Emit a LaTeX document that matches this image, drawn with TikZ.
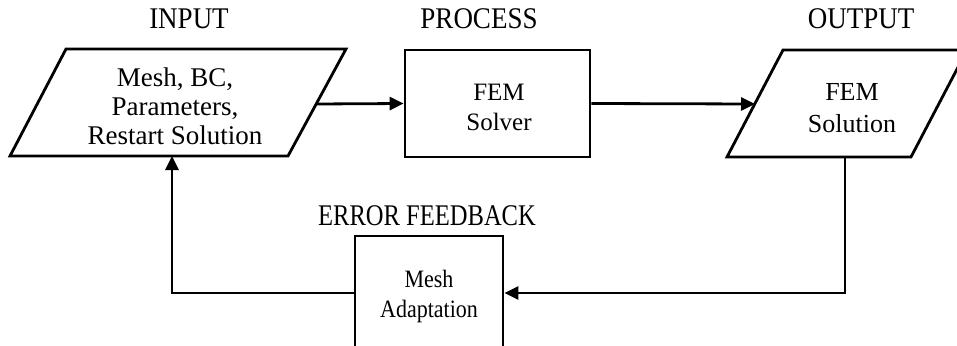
\documentclass[tikz,border=0pt]{standalone}
\usepackage{fontspec}
\setmainfont{Liberation Serif}
\usetikzlibrary{arrows.meta}
\begin{document}
\begin{tikzpicture}[x=1pt,y=-1pt,
  line/.style={line width=2.8pt, line join=miter},
  flow/.style={line width=2.8pt, -{Triangle[length=14pt,width=13pt]}},
  title/.style={font=\fontsize{30}{32}\selectfont, inner sep=0pt, anchor=base, xscale=0.9},
  boxtext/.style={font=\fontsize{24}{30}\selectfont, align=center, inner sep=0pt},
  procbox/.style={draw, line width=2.8pt, inner sep=0pt, boxtext}
]
\useasboundingbox (0,0) rectangle (957,345);
\clip (0,0) rectangle (957,345);

% input data (parallelogram)
\draw[line] (66,49) -- (346,49) -- (288,156) -- (10,156) -- cycle;
\node[boxtext, font=\fontsize{27}{29}\selectfont] (inputtext) at (175,106) {Mesh, BC,\\Parameters,\\Restart Solution};
\coordinate (inR) at (316,104);
\coordinate (inB) at (172,156);

% solver
\node[procbox, minimum width=185pt, minimum height=107pt] (solver) at (497.5,103.5) {};
\node[boxtext, font=\fontsize{25}{30}\selectfont] (solvertext) at (499,107) {FEM\\Solver};

% output data (parallelogram)
\draw[line] (783,50) -- (967,50) -- (911,157) -- (727,157) -- cycle;
\node[boxtext, font=\fontsize{26}{32}\selectfont] (outputtext) at (852,108) {FEM\\Solution};
\coordinate (outL) at (755,104);
\coordinate (outB) at (845,157);

% mesh adaptation
\node[procbox, minimum width=148pt, minimum height=114pt] (adapt) at (429,293) {};
\node[boxtext, font=\fontsize{25}{30}\selectfont, xscale=0.88] (adapttext) at (429,296) {Mesh\\Adaptation};

% titles
\node[title] (tin) at (189,29) {INPUT};
\node[title] (tproc) at (479,29) {PROCESS};
\node[title] (tout) at (861,29) {OUTPUT};
\node[title, xscale=0.91] (terr) at (427,225) {ERROR FEEDBACK};

% connectors
\draw[flow] (inR) -- (solver.west);
\draw[flow] (solver.east) -- (outL);
\draw[flow] (outB) |- (adapt.east);
\draw[flow] (adapt.west) -| (inB);
\end{tikzpicture}
\end{document}
